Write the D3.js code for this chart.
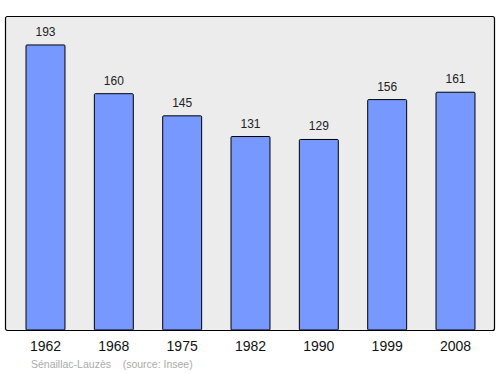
<!DOCTYPE html>
<html>
<head>
<meta charset="utf-8">
<script src="https://cdn.jsdelivr.net/npm/d3@7"></script>
<style>
  body { margin: 0; background: #fff; }
  text { font-family: "Liberation Sans", Arial, sans-serif; }
</style>
</head>
<body>
<script>
var years = ["1962", "1968", "1975", "1982", "1990", "1999", "2008"];
var population = [193, 160, 145, 131, 129, 156, 161];
var commune = "Sénaillac-Lauzès";
var source = "(source: Insee)";

var width = 500, height = 374;
var plot = { left: 5, top: 16, right: 494, bottom: 330 };

var svg = d3.select("body").append("svg")
            .attr("width", width)
            .attr("height", height);

var x = d3.scaleBand()
          .domain(years)
          .range([plot.left + 1, plot.right + 1])
          .paddingInner(0.43)
          .paddingOuter(0.293);

var y = d3.scaleLinear()
          .domain([0, 212.6])
          .range([plot.bottom, plot.top]);

svg.append("rect")
   .attr("x", plot.left + 0.5)
   .attr("y", plot.top + 0.5)
   .attr("width", plot.right - plot.left)
   .attr("height", plot.bottom - plot.top)
   .attr("rx", 2)
   .attr("fill", "#ececec")
   .attr("stroke", "#000")
   .attr("stroke-width", 1.2);

var bars = svg.selectAll(".bar")
              .data(population)
              .enter();

bars.append("rect")
    .attr("class", "bar")
    .attr("x", function (d, i) { return x(years[i]); })
    .attr("y", function (d) { return y(d); })
    .attr("width", x.bandwidth())
    .attr("height", function (d) { return y(0) - y(d); })
    .attr("rx", 1)
    .attr("fill", "#7799ff")
    .attr("stroke", "#000")
    .attr("stroke-width", 1);

bars.append("text")
    .attr("x", function (d, i) { return x(years[i]) + x.bandwidth() / 2; })
    .attr("y", function (d) { return y(d) - 9; })
    .attr("text-anchor", "middle")
    .attr("font-size", 12)
    .attr("fill", "#222")
    .text(function (d) { return d; });

var xAxis = svg.append("g")
               .attr("transform", "translate(0," + plot.bottom + ")")
               .call(d3.axisBottom(x).tickSize(0).tickPadding(11));
xAxis.select(".domain").remove();
xAxis.selectAll("text")
     .attr("font-size", 14)
     .attr("font-family", "Liberation Sans, Arial, sans-serif")
     .attr("fill", "#111");

svg.append("text")
   .attr("x", 31)
   .attr("y", 368)
   .attr("font-size", 10.5)
   .attr("fill", "#aaa")
   .attr("xml:space", "preserve")
   .text(commune + "    " + source);
</script>
</body>
</html>
